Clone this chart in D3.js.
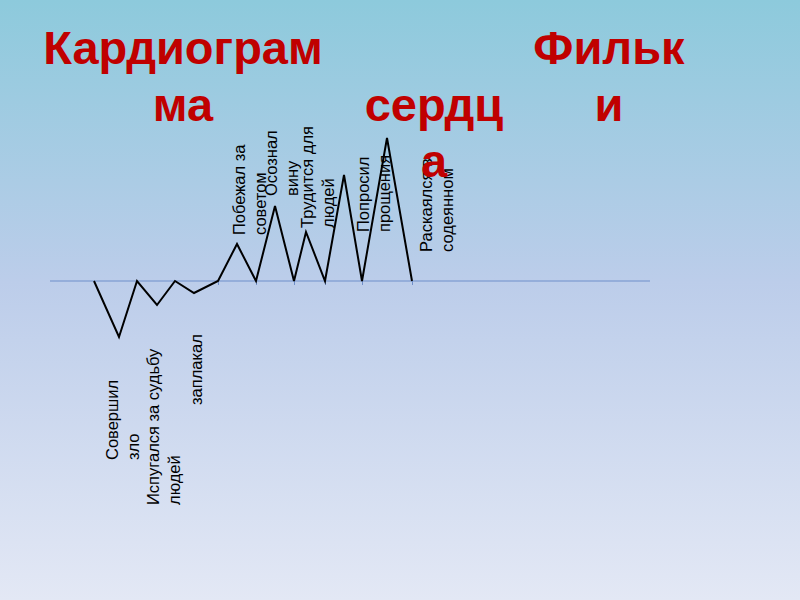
<!DOCTYPE html>
<html><head><meta charset="utf-8">
<script src="https://cdn.jsdelivr.net/npm/d3@7"></script>
<style>html,body{margin:0;padding:0;overflow:hidden;}svg{display:block;}</style>
</head><body>
<script>
// ---- data ----
// time steps (arbitrary units) and heart "level" of each vertex of the cardiogram
const timeSteps = [8.8, 13.8, 17.4, 21.4, 25, 28.8, 33.6, 37.4, 41.2, 45, 48.8, 51.2, 55, 58.8, 62.4, 67.4, 72.4];
const levels    = [0, -5.6, 0, -2.4, 0, -1.2, 0, 3.7, 0, 7.5, 0, 4.9, 0, 10.6, 0, 14.3, 0];
// axis ticks (time steps where the curve returns to the baseline)
const tickSteps = [33.6, 41.2, 48.8, 55, 62.4, 72.4];
// event labels
const labelLines = [
  ["Совершил", "зло"],
  ["Испугался за судьбу", "людей"],
  ["заплакал"],
  ["Побежал за", "советом"],
  ["Осознал", "вину"],
  ["Трудится для", "людей"],
  ["Попросил", "прощения"],
  ["Раскаялся в", "содеянном"]
];
const labelSteps  = [13.6, 21.8, 30.4, 39, 45.4, 52.6, 63.8, 76.4];
const labelLevels = [-17.9, -22.4, -12.4, 4.6, 8.5, 5.3, 4.9, 2.9];
// title lines: [text, column, row]
const titleText = ["Кардиограм", "ма", "сердц", "а", "Фильк", "и"];
const titleCol  = [0, 0, 1, 1, 2, 2];
const titleRow  = [0, 1, 1, 2, 0, 1];

// ---- drawing ----
const W = 800, H = 600;
const svg = d3.select("body").append("svg").attr("width", W).attr("height", H);

const defs = svg.append("defs");
const grad = defs.append("linearGradient").attr("id", "bg").attr("x1", 0).attr("y1", 0).attr("x2", 0).attr("y2", 1);
grad.append("stop").attr("offset", "0%").attr("stop-color", "#8dcadc");
grad.append("stop").attr("offset", "47%").attr("stop-color", "#bccdea");
grad.append("stop").attr("offset", "100%").attr("stop-color", "#e3e8f5");
svg.append("rect").attr("width", W).attr("height", H).attr("fill", "url(#bg)");

const x = d3.scaleLinear().domain([0, 120]).range([50, 650]);
const y = d3.scaleLinear().domain([0, 10]).range([281, 181]);

// baseline axis
const axis = d3.axisBottom(x).tickValues(tickSteps).tickSize(4).tickFormat("");
const gAxis = svg.append("g").attr("transform", `translate(0,${y(0)})`).call(axis);
gAxis.select(".domain").attr("stroke", "#6f8fc9").attr("stroke-width", 1.2).attr("d", `M${x(0)},0H${x(120)}`);
gAxis.selectAll(".tick line").attr("stroke", "#6f8fc9").attr("stroke-width", 1);

// cardiogram line
const pts = timeSteps.map((t, i) => [t, levels[i]]);
svg.append("path")
  .datum(pts)
  .attr("fill", "none")
  .attr("stroke", "#000")
  .attr("stroke-width", 2)
  .attr("stroke-linejoin", "miter")
  .attr("d", d3.line().x(d => x(d[0])).y(d => y(d[1])));

// labels (rotated)
const lg = svg.append("g")
  .style("font-family", "'Liberation Sans', Arial, sans-serif")
  .style("font-size", "16.5px")
  .attr("fill", "#000");
labelLines.forEach((lines, i) => {
  const t = lg.append("text")
    .attr("transform", `translate(${x(labelSteps[i])},${y(labelLevels[i])}) rotate(-90)`)
    .attr("text-anchor", "start");
  lines.forEach((s, j) => {
    t.append("tspan").attr("x", 0).attr("y", j * 21).text(s);
  });
});

// title
const colX = [183, 434, 609];
const rowY = [64, 121, 177];
const tg = svg.append("g")
  .style("font-family", "'Liberation Sans', Arial, sans-serif")
  .style("font-size", "47px")
  .style("font-weight", "bold")
  .attr("fill", "#c00000")
  .attr("text-anchor", "middle");
titleText.forEach((s, i) => {
  tg.append("text").attr("x", colX[titleCol[i]]).attr("y", rowY[titleRow[i]]).text(s);
});
</script>
</body></html>
